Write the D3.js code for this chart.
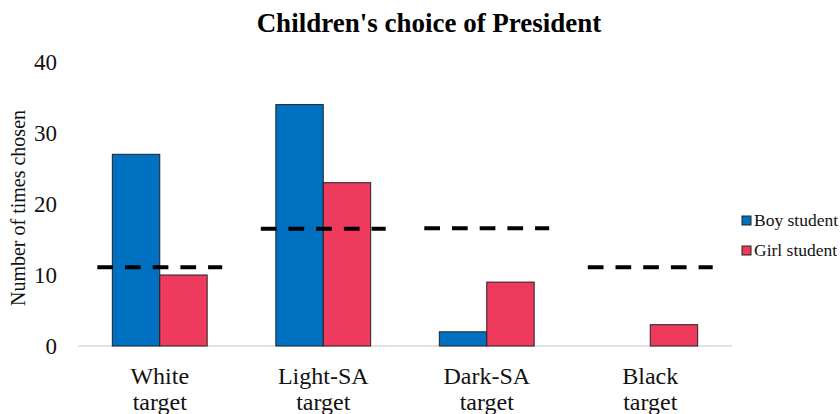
<!DOCTYPE html>
<html>
<head>
<meta charset="utf-8">
<script src="https://cdn.jsdelivr.net/npm/d3@7"></script>
<style>
  html, body { margin: 0; padding: 0; background: #fff; }
  svg { display: block; }
  svg text { font-family: "Liberation Serif", "Times New Roman", Times, "DejaVu Serif", serif; }
</style>
</head>
<body>
<svg id="chart" width="840" height="414"></svg>
<script>
// Chart data
const categories = ["White target", "Light-SA target", "Dark-SA target", "Black target"];
const seriesNames = ["Boy student", "Girl student"];
const boyValues = [27, 34, 2, 0];
const girlValues = [10, 23, 9, 3];
const expectedValues = [11.1, 16.5, 16.6, 11.1];
const yTicks = [0, 10, 20, 30, 40];
const seriesColors = ["#0070C0", "#EE3A5C"];

const FONT = "'Liberation Serif', 'Times New Roman', Times, 'DejaVu Serif', serif";

const svg = d3.select("#chart");
const margin = { left: 78, right: 108, top: 62, bottom: 68 };
const width = 840, height = 414;
const plotW = width - margin.left - margin.right;
const plotBottom = 346;

const x0 = d3.scaleBand().domain(categories).range([margin.left, margin.left + plotW]).padding(0);
const bw = x0.bandwidth();
const x1 = d3.scaleBand().domain(seriesNames).range([bw * 0.21, bw * 0.79]).padding(0);
const y = d3.scaleLinear().domain([0, 40]).range([plotBottom, margin.top]);

// Title
svg.append("text")
  .attr("x", 429).attr("y", 32)
  .attr("text-anchor", "middle")
  .style("font-family", FONT)
  .attr("font-weight", "bold")
  .attr("font-size", 27)
  .attr("fill", "#000")
  .text("Children's choice of President");

// Y axis (labels only)
const yAxis = d3.axisLeft(y).tickValues(yTicks).tickSize(0).tickPadding(0);
const yg = svg.append("g").attr("transform", "translate(57,0)").call(yAxis);
yg.attr("font-family", null);
yg.select(".domain").remove();
yg.selectAll("text")
  .style("font-family", FONT)
  .attr("font-size", 23)
  .attr("fill", "#111")
  .attr("dy", "0.33em");

// Y axis title
svg.append("text")
  .attr("transform", "translate(25,208) rotate(-90)")
  .attr("text-anchor", "middle")
  .style("font-family", FONT)
  .attr("font-size", 20)
  .attr("fill", "#111")
  .text("Number of times chosen");

// Baseline
svg.append("line")
  .attr("x1", margin.left).attr("x2", margin.left + plotW)
  .attr("y1", y(0)).attr("y2", y(0))
  .attr("stroke", "#d9d9d9").attr("stroke-width", 1.5);

// Bars
const rows = categories.map((c, i) => ({ cat: c, vals: [boyValues[i], girlValues[i]], expected: expectedValues[i] }));
const groups = svg.selectAll("g.grp").data(rows).enter().append("g")
  .attr("class", "grp")
  .attr("transform", d => `translate(${x0(d.cat)},0)`);

groups.selectAll("rect")
  .data(d => d.vals.map((v, j) => ({ name: seriesNames[j], v, j })).filter(e => e.v > 0))
  .enter().append("rect")
  .attr("x", e => x1(e.name))
  .attr("width", x1.bandwidth())
  .attr("y", e => y(e.v))
  .attr("height", e => y(0) - y(e.v))
  .attr("fill", e => seriesColors[e.j])
  .attr("stroke", "#222")
  .attr("stroke-width", 1);

// Expected-value dashed lines
groups.append("line")
  .attr("x1", bw / 2 - bw * 0.382)
  .attr("x2", bw / 2 + bw * 0.382)
  .attr("y1", d => y(d.expected))
  .attr("y2", d => y(d.expected))
  .attr("stroke", "#000")
  .attr("stroke-width", 4)
  .attr("stroke-dasharray", "15.7,12");

// Category labels (two lines)
categories.forEach(c => {
  const parts = c.split(" ");
  const t = svg.append("text")
    .attr("x", x0(c) + bw / 2)
    .attr("y", 384)
    .attr("text-anchor", "middle")
    .style("font-family", FONT)
    .attr("font-size", 24)
    .attr("fill", "#111");
  parts.forEach((p, k) => {
    t.append("tspan").attr("x", x0(c) + bw / 2).attr("dy", k === 0 ? 0 : 26).text(p);
  });
});

// Legend
const legend = svg.append("g").attr("transform", "translate(742,216)");
seriesNames.forEach((name, j) => {
  const g = legend.append("g").attr("transform", `translate(0,${j * 30})`);
  g.append("rect")
    .attr("width", 9).attr("height", 9)
    .attr("fill", seriesColors[j])
    .attr("stroke", "#222").attr("stroke-width", 1);
  g.append("text")
    .attr("x", 12).attr("y", 9.5)
    .style("font-family", FONT)
    .attr("font-size", 17.5)
    .attr("fill", "#111")
    .text(name);
});
</script>
</body>
</html>
